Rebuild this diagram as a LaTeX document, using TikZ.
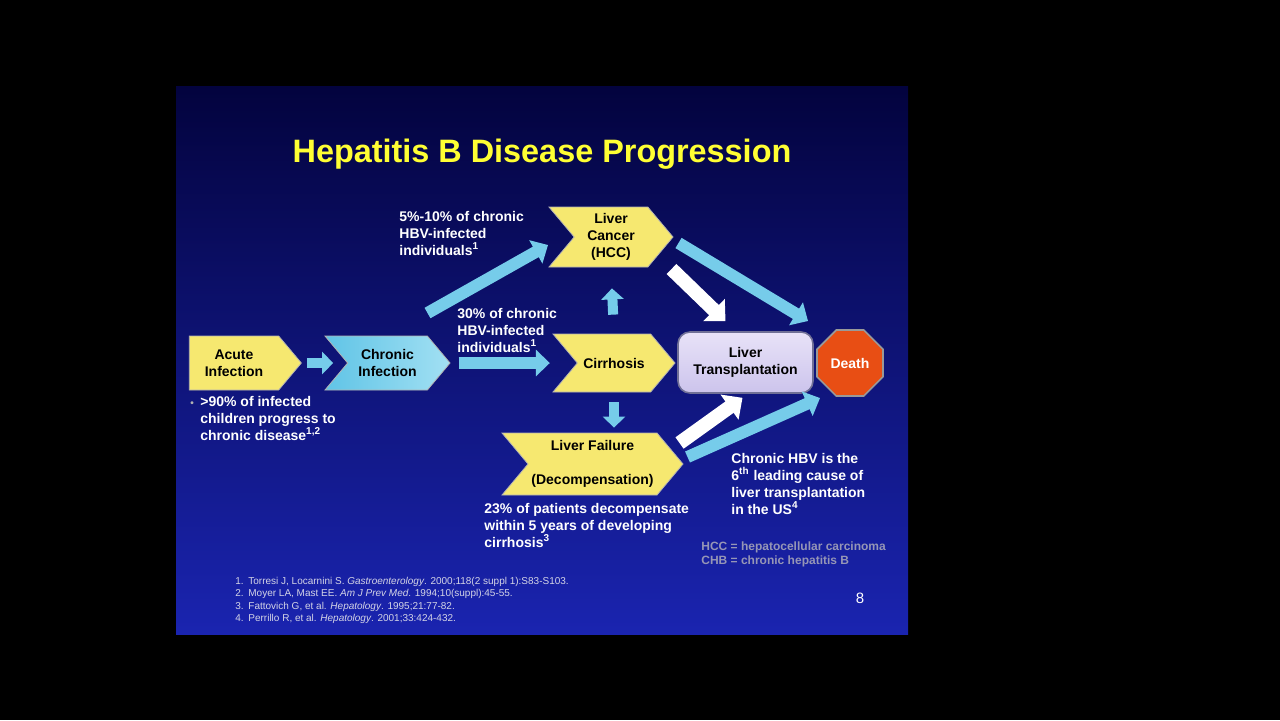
\documentclass[tikz,border=0pt]{standalone}
\usepackage{fontspec}
\setmainfont{Liberation Sans}
\usetikzlibrary{positioning, shapes, arrows.meta, calc}

\definecolor{slidetop}{RGB}{3,3,62}
\definecolor{slidemid}{RGB}{8,12,128}
\definecolor{slidebot}{RGB}{26,36,176}
\definecolor{boxyellow}{RGB}{246,232,112}
\definecolor{flowblue}{RGB}{118,204,234}
\definecolor{chronleft}{RGB}{96,196,230}
\definecolor{chronright}{RGB}{162,224,243}
\definecolor{lavtop}{RGB}{232,226,248}
\definecolor{lavbot}{RGB}{204,196,236}
\definecolor{lavborder}{RGB}{112,112,150}
\definecolor{deathred}{RGB}{232,78,20}
\definecolor{titleyellow}{RGB}{255,255,51}
\definecolor{legendgrey}{RGB}{150,150,182}
\definecolor{refgrey}{RGB}{212,212,230}

\newcommand{\slidefont}{\fontsize{7}{8.5}\selectfont\bfseries}

\begin{document}
\begin{tikzpicture}[x=0.5pt, y=-0.5pt,
    every node/.style={inner sep=0pt},
    stage/.style={signal, signal to=east, signal pointer angle=100, draw=gray!60, line width=0.4pt, font=\slidefont, align=center},
    yelstage/.style={stage, signal from=west, fill=boxyellow},
    note/.style={font=\slidefont, text=white, align=left, anchor=north west},
    flow/.style={draw=flowblue, line width=6pt, -{Triangle[width=13pt, length=7pt]}},
    smallflow/.style={draw=flowblue, line width=5pt, -{Triangle[width=11pt, length=5.5pt]}},
    whiteflow/.style={draw=white, line width=7pt, -{Triangle[width=15pt, length=8pt]}}]

          \fill[black] (0,0) rectangle (1280,720);
          \shade[top color=slidetop, middle color=slidemid, bottom color=slidebot] (176,86) rectangle (908,634);

          \node[font=\fontsize{16.2}{19}\selectfont\bfseries, text=titleyellow] (title) at (542,154) {Hepatitis B Disease Progression};

          \node[stage, fill=boxyellow, minimum width=56pt, minimum height=27pt] (acute) at (234,363) {Acute\\Infection};
          \node[stage, signal from=west, left color=chronleft, right color=chronright, minimum width=62.5pt, minimum height=27pt] (chronic) at (387.5,363) {Chronic\\Infection};
          \node[yelstage, minimum width=62pt, minimum height=30pt] (cancer) at (611,237) {Liver\\Cancer\\(HCC)};
          \node[yelstage, minimum width=61pt, minimum height=29pt] (cirr) at (614,363) {Cirrhosis};
          \node[yelstage, minimum width=90.5pt, minimum height=31pt] (failure) at (592.5,464) {Liver Failure\\[8.5pt](Decompensation)};
          \node[rounded corners=6pt, draw=lavborder, line width=0.8pt, top color=lavtop, bottom color=lavbot, minimum width=67.5pt, minimum height=30.5pt, font=\slidefont, align=center] (trans) at (745.5,362.5) {Liver\\Transplantation};
          \node[regular polygon, regular polygon sides=8, fill=deathred, draw=gray!80, line width=0.8pt, minimum size=35.7pt, font=\slidefont, text=white] (death) at (850,363) {Death};

          \draw[smallflow] ($(acute.east)+(5,0)$) -- ($(chronic.west)+(-14,0)$);
          \draw[flow] ($(chronic.east)+(8,0)$) -- ($(cirr.west)+(-27,0)$);
          \draw[flow] ($(chronic.center)+(40,-50)$) -- ($(cancer.center)+(-63,8)$);
          \draw[smallflow, shorten <=9.5pt, shorten >=10.5pt] (cirr.north) -- (cancer.south);
          \draw[smallflow, shorten <=5pt, shorten >=2.5pt] (cirr.south) -- (cirr.south |- failure.north);
          \draw[flow] ($(cancer.east)+(5,6)$) -- ($(death.center)+(-42,-42)$);
          \draw[whiteflow] ($(cancer.east)+(-2,32)$) -- ($(trans.north)+(-20,-10)$);
          \draw[whiteflow] ($(failure.east)+(-4,-21)$) -- ($(trans.south)+(-3,4)$);
          \draw[flow] ($(failure.east)+(4,-7)$) -- ($(death.center)+(-30,35)$);

          \node[note] (upper) at (399,211) {5\%-10\% of chronic\\HBV-infected\\individuals\textsuperscript{1}};
          \node[note] (middle) at (457,308) {30\% of chronic\\HBV-infected\\individuals\textsuperscript{1}};
          \node[note] (children) at (190,396) {\makebox[5pt][l]{\textcolor{gray!60}{\fontsize{5}{5}\selectfont •}}>90\% of infected\\\hspace*{5pt}children progress to\\\hspace*{5pt}chronic disease\textsuperscript{1,2}};
          \node[note] (decomp) at (484,503) {23\% of patients decompensate\\within 5 years of developing\\cirrhosis\textsuperscript{3}};
          \node[note] (hbv) at (731,453) {Chronic HBV is the\\6\textsuperscript{th} leading cause of\\liver transplantation\\in the US\textsuperscript{4}};
          \node[note, font=\fontsize{6}{7}\selectfont\bfseries, text=legendgrey] (legend) at (701,541) {HCC = hepatocellular carcinoma\\CHB = chronic hepatitis B};
          \node[note, font=\fontsize{5}{6.15}\selectfont, text=refgrey] (refs) at (235,577) {\makebox[6.5pt][l]{1.}Torresi J, Locarnini S. \textit{Gastroenterology}. 2000;118(2 suppl 1):S83-S103.\\\makebox[6.5pt][l]{2.}Moyer LA, Mast EE. \textit{Am J Prev Med}. 1994;10(suppl):45-55.\\\makebox[6.5pt][l]{3.}Fattovich G, et al. \textit{Hepatology}. 1995;21:77-82.\\\makebox[6.5pt][l]{4.}Perrillo R, et al. \textit{Hepatology}. 2001;33:424-432.};
          \node[font=\fontsize{7.5}{9}\selectfont, text=white] (page) at (860,598) {8};
        \end{tikzpicture}
\end{document}
